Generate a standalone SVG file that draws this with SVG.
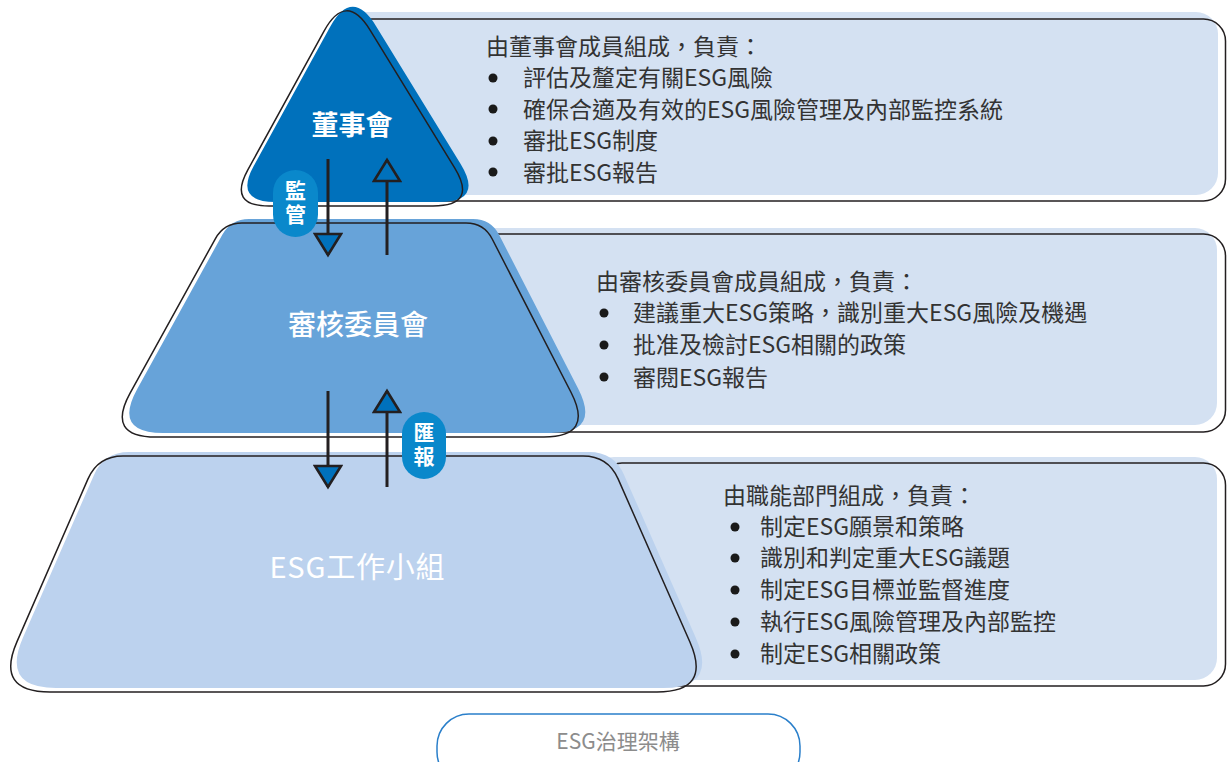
<svg xmlns="http://www.w3.org/2000/svg" width="1227" height="762" viewBox="0 0 1227 762">
<style>
.ol{fill:none;stroke:#231f20;stroke-width:1.5}
.pf{fill:#d4e1f2}
.hd{font-family:"Noto Sans CJK TC","Noto Sans CJK SC",sans-serif;font-size:23px;fill:#333333}
.bl{fill:#1a1a1a}
.ttl{font-family:"Noto Sans CJK TC","Noto Sans CJK SC",sans-serif;fill:#ffffff;text-anchor:middle}
.pill{fill:#0a88cb}
.pt{font-family:"Noto Sans CJK TC","Noto Sans CJK SC",sans-serif;font-size:21px;font-weight:700;fill:#ffffff;text-anchor:middle;writing-mode:vertical-rl;letter-spacing:3px}
.ln{stroke:#231f20;stroke-width:3;fill:none}
</style>
<defs>
<marker id="head" markerUnits="userSpaceOnUse" markerWidth="28" markerHeight="30" viewBox="0 0 28 30" refX="23" refY="15" orient="auto">
<path d="M2,2 L23,15 L2,28 Z" fill="#0071bc" stroke="#231f20" stroke-width="2.6"/>
</marker>
<path id="tri" d="M370.1,30.2 L454.5,167.7 Q478,206 433,206 L269,206 Q228,206 247.7,170.1 L323.9,31.3 Q346,-9 370.1,30.2 Z"/>
<path id="trap2" d="M242,223 L466,223 Q484,223 492.2,239 L571.1,392.5 Q594,437 544,437 L156,437 Q106,437 130.1,393.2 L215.3,238.8 Q224,223 242,223 Z"/>
<path id="trap3" d="M123,456 L583,456 Q608,456 618.1,478.9 L689.8,641.7 Q712,692 657,692 L50,692 Q-5,692 17,641.6 L88,478.9 Q98,456 123,456 Z"/>
</defs>
<rect width="1227" height="762" fill="#ffffff"/>

<g id="panel-board">
<rect class="pf" x="345" y="12" width="873" height="183" rx="22"/>
<rect class="ol" x="350" y="19" width="875.5" height="182" rx="22"/>
<text class="hd" x="486" y="55">由董事會成員組成，負責：</text>
<circle class="bl" cx="493" cy="78" r="4.5"/>
<text class="hd" x="523" y="86">評估及釐定有關ESG風險</text>
<circle class="bl" cx="493" cy="109" r="4.5"/>
<text class="hd" x="523" y="118">確保合適及有效的ESG風險管理及內部監控系統</text>
<circle class="bl" cx="493" cy="141" r="4.5"/>
<text class="hd" x="523" y="149">審批ESG制度</text>
<circle class="bl" cx="493" cy="172" r="4.5"/>
<text class="hd" x="523" y="181">審批ESG報告</text>
</g>

<g id="node-board">
<use href="#tri" transform="translate(6,-4)" fill="#0071bc"/>
<use href="#tri" class="ol"/>
<text class="ttl" x="352" y="135" font-size="27" font-weight="700">董事會</text>
</g>

<g id="panel-audit">
<rect class="pf" x="462" y="228" width="755" height="197" rx="22"/>
<rect class="ol" x="470" y="234" width="755.5" height="198" rx="22"/>
<text class="hd" x="596" y="290">由審核委員會成員組成，負責：</text>
<circle class="bl" cx="604" cy="313" r="4.5"/>
<text class="hd" x="633" y="321">建議重大ESG策略，識別重大ESG風險及機遇</text>
<circle class="bl" cx="604" cy="345" r="4.5"/>
<text class="hd" x="633" y="353">批准及檢討ESG相關的政策</text>
<circle class="bl" cx="604" cy="377" r="4.5"/>
<text class="hd" x="633" y="386">審閱ESG報告</text>
</g>

<g id="node-audit">
<use href="#trap2" transform="translate(7,-4)" fill="#67a3d9"/>
<use href="#trap2" class="ol"/>
<text class="ttl" x="358" y="335" font-size="28" font-weight="500">審核委員會</text>
</g>

<g id="panel-esg">
<rect class="pf" x="592" y="457" width="625" height="223" rx="22"/>
<rect class="ol" x="600" y="463" width="625.5" height="223" rx="22"/>
<text class="hd" x="723" y="504">由職能部門組成，負責：</text>
<circle class="bl" cx="735" cy="527" r="4.5"/>
<text class="hd" x="760" y="535">制定ESG願景和策略</text>
<circle class="bl" cx="735" cy="558" r="4.5"/>
<text class="hd" x="760" y="566">識別和判定重大ESG議題</text>
<circle class="bl" cx="735" cy="590" r="4.5"/>
<text class="hd" x="760" y="598">制定ESG目標並監督進度</text>
<circle class="bl" cx="735" cy="622" r="4.5"/>
<text class="hd" x="760" y="630">執行ESG風險管理及內部監控</text>
<circle class="bl" cx="735" cy="654" r="4.5"/>
<text class="hd" x="760" y="662">制定ESG相關政策</text>
</g>

<g id="node-esg">
<use href="#trap3" transform="translate(6,-4)" fill="#bcd2ee"/>
<use href="#trap3" class="ol"/>
<text class="ttl" x="357" y="578" font-size="29" font-weight="400" textLength="175">ESG工作小組</text>
</g>

<g id="connectors">
<line class="ln" x1="328" y1="159" x2="328" y2="255" marker-end="url(#head)"/>
<line class="ln" x1="387" y1="255" x2="387" y2="160" marker-end="url(#head)"/>
<line class="ln" x1="328" y1="391" x2="328" y2="487" marker-end="url(#head)"/>
<line class="ln" x1="387" y1="487" x2="387" y2="391" marker-end="url(#head)"/>
</g>

<g id="label-supervise">
<rect class="pill" x="273" y="170" width="45" height="67" rx="22.5"/>
<text class="pt" x="295.5" y="203.5">監管</text>
</g>

<g id="label-report">
<rect class="pill" x="402" y="412" width="44" height="67" rx="22"/>
<text class="pt" x="424" y="445.5">匯報</text>
</g>

<g id="caption">
<rect x="437" y="714" width="363" height="70" rx="32" fill="#ffffff" stroke="#2a7fca" stroke-width="1.5"/>
<text x="618" y="749" font-family="'Noto Sans CJK TC','Noto Sans CJK SC',sans-serif" font-size="21" fill="#8c8c8c" text-anchor="middle">ESG治理架構</text>
</g>
</svg>
